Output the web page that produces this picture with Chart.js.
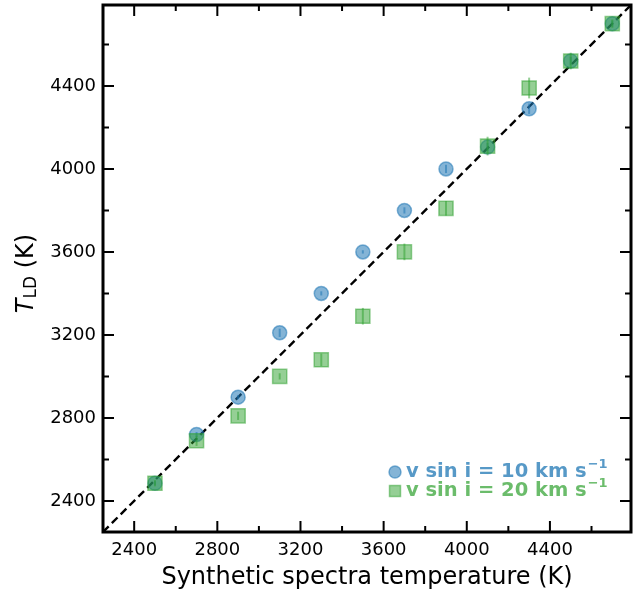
<!DOCTYPE html>
<html>
<head>
<meta charset="utf-8">
<script src="https://cdn.jsdelivr.net/npm/chart.js@4/dist/chart.umd.min.js"></script>
<style>
  html, body { margin: 0; padding: 0; background: #fff; }
  #wrap { width: 644px; height: 593px; }
</style>
</head>
<body>
<div id="wrap"><canvas id="myChart" width="644" height="593"></canvas></div>
<script>
// synthetic spectra temperatures (x) and fitted T_LD values (y)
const synthTemps = [2500, 2700, 2900, 3100, 3300, 3500, 3700, 3900, 4100, 4300, 4500, 4700];
const tld10 = [2485, 2720, 2900, 3210, 3400, 3600, 3800, 4000, 4105, 4290, 4520, 4700];
const err10 = [10, 12, 10, 20, 10, 8, 15, 20, 20, 25, 20, 15];
const tld20 = [2485, 2690, 2810, 3000, 3080, 3290, 3600, 3810, 4110, 4390, 4520, 4700];
const err20 = [15, 25, 20, 15, 30, 40, 40, 35, 45, 50, 40, 20];
const tickValues = [2400, 2800, 3200, 3600, 4000, 4400];
const minorValues = [2600, 3000, 3400, 3800, 4200, 4600];
const axisMin = 2250;
const axisMax = 4790;
const seriesLabels = ['v sin i = 10 km s', 'v sin i = 20 km s'];

const blue = 'rgba(31,119,180,0.55)';
const green = 'rgba(44,160,44,0.5)';
const blueText = 'rgba(31,119,180,0.75)';
const greenText = 'rgba(44,160,44,0.7)';
const font = 'DejaVu Sans';

function pts(xs, ys) {
  return xs.map((x, i) => ({ x: x, y: ys[i] }));
}

// error bars drawn under each scatter dataset
const errorBars = {
  id: 'errorBars',
  beforeDatasetDraw(chart, args) {
    const ds = chart.data.datasets[args.index];
    if (!ds.errors) return;
    const { ctx, scales } = chart;
    ctx.save();
    ctx.strokeStyle = ds.borderColor;
    ctx.lineWidth = 2;
    ds.data.forEach((p, i) => {
      const x = scales.x.getPixelForValue(p.x);
      ctx.beginPath();
      ctx.moveTo(x, scales.y.getPixelForValue(p.y - ds.errors[i]));
      ctx.lineTo(x, scales.y.getPixelForValue(p.y + ds.errors[i]));
      ctx.stroke();
    });
    ctx.restore();
  }
};

// frame, inward ticks on all sides, y title and legend
const frame = {
  id: 'frame',
  afterDraw(chart) {
    const { ctx, chartArea: a, scales } = chart;
    ctx.save();
    ctx.strokeStyle = '#000';
    ctx.lineWidth = 2;
    const tick = (v, len) => {
      const x = scales.x.getPixelForValue(v);
      const y = scales.y.getPixelForValue(v);
      ctx.beginPath();
      ctx.moveTo(x, a.bottom); ctx.lineTo(x, a.bottom - len);
      ctx.moveTo(x, a.top); ctx.lineTo(x, a.top + len);
      ctx.moveTo(a.left, y); ctx.lineTo(a.left + len, y);
      ctx.moveTo(a.right, y); ctx.lineTo(a.right - len, y);
      ctx.stroke();
    };
    tickValues.forEach(v => tick(v, 11));
    minorValues.forEach(v => tick(v, 6));
    ctx.lineWidth = 3;
    ctx.strokeRect(a.left, a.top, a.right - a.left, a.bottom - a.top);

    // y title: T_LD (K)
    ctx.translate(27, (a.top + a.bottom) / 2 + 5);
    ctx.rotate(-Math.PI / 2);
    ctx.fillStyle = '#000';
    ctx.textBaseline = 'middle';
    ctx.textAlign = 'left';
    ctx.font = 'italic 24px "' + font + '"';
    const tW = ctx.measureText('T').width;
    ctx.font = '17px "' + font + '"';
    const ldW = ctx.measureText('LD').width;
    ctx.font = '24px "' + font + '"';
    const kW = ctx.measureText(' (K)').width;
    let x0 = -(tW + ldW + kW) / 2;
    ctx.font = 'italic 24px "' + font + '"';
    ctx.fillText('T', x0, 0);
    ctx.font = '17px "' + font + '"';
    ctx.fillText('LD', x0 + tW, 5);
    ctx.font = '24px "' + font + '"';
    ctx.fillText(' (K)', x0 + tW + ldW, 0);
    ctx.setTransform(1, 0, 0, 1, 0, 0);

    // legend
    const rows = [
      { label: seriesLabels[0], color: blue, text: blueText, shape: 'circle', y: 472 },
      { label: seriesLabels[1], color: green, text: greenText, shape: 'square', y: 491 }
    ];
    rows.forEach(r => {
      ctx.fillStyle = r.color;
      ctx.strokeStyle = r.color;
      ctx.lineWidth = 1.5;
      ctx.beginPath();
      if (r.shape === 'circle') {
        ctx.arc(395, r.y, 6, 0, Math.PI * 2);
      } else {
        ctx.rect(389.5, r.y - 5.5, 11, 11);
      }
      ctx.fill();
      ctx.stroke();
      ctx.fillStyle = r.text;
      ctx.font = 'bold 19.5px "' + font + '"';
      ctx.textBaseline = 'middle';
      ctx.fillText(r.label, 406, r.y);
      const w = ctx.measureText(r.label).width;
      ctx.font = 'bold 13px "' + font + '"';
      ctx.fillText('\u22121', 406 + w + 1, r.y - 7);
    });
    ctx.restore();
  }
};

const scaleBase = {
  type: 'linear',
  min: axisMin,
  max: axisMax,
  grid: { display: false, drawTicks: false },
  border: { display: false },
  afterBuildTicks: s => { s.ticks = tickValues.map(v => ({ value: v })); },
  ticks: { color: '#000', font: { family: font, size: 18 }, callback: v => String(v) }
};

new Chart(document.getElementById('myChart'), {
  type: 'scatter',
  data: {
    datasets: [
      {
        label: seriesLabels[1],
        data: pts(synthTemps, tld20),
        errors: err20,
        backgroundColor: green,
        borderColor: green,
        borderWidth: 1.5,
        pointStyle: 'rect',
        pointRadius: 10,
        order: 0
      },
      {
        label: seriesLabels[0],
        data: pts(synthTemps, tld10),
        errors: err10,
        backgroundColor: blue,
        borderColor: blue,
        borderWidth: 1.5,
        pointStyle: 'circle',
        pointRadius: 7,
        order: 1
      },
      {
        type: 'line',
        label: 'one-to-one',
        data: [{ x: axisMin, y: axisMin }, { x: axisMax, y: axisMax }],
        borderColor: '#000',
        borderWidth: 2.4,
        borderDash: [8, 4.5],
        pointRadius: 0,
        fill: false,
        order: 2
      }
    ]
  },
  options: {
    responsive: false,
    animation: false,
    devicePixelRatio: 1,
    layout: { autoPadding: false, padding: { top: 5, right: 13, left: 0, bottom: 0 } },
    plugins: { legend: { display: false }, tooltip: { enabled: false } },
    scales: {
      x: Object.assign({}, scaleBase, {
        position: 'bottom',
        afterFit: s => { s.height = 61; s.paddingLeft = 0; s.paddingRight = 0; },
        ticks: Object.assign({}, scaleBase.ticks, { padding: 8 }),
        title: {
          display: true,
          text: 'Synthetic spectra temperature (K)',
          color: '#000',
          font: { family: font, size: 24 },
          padding: { top: 0, bottom: 1 }
        }
      }),
      y: Object.assign({}, scaleBase, {
        position: 'left',
        afterFit: s => { s.width = 103; s.paddingTop = 0; s.paddingBottom = 0; },
        ticks: Object.assign({}, scaleBase.ticks, { padding: 7 })
      })
    }
  },
  plugins: [errorBars, frame]
});
</script>
</body>
</html>
